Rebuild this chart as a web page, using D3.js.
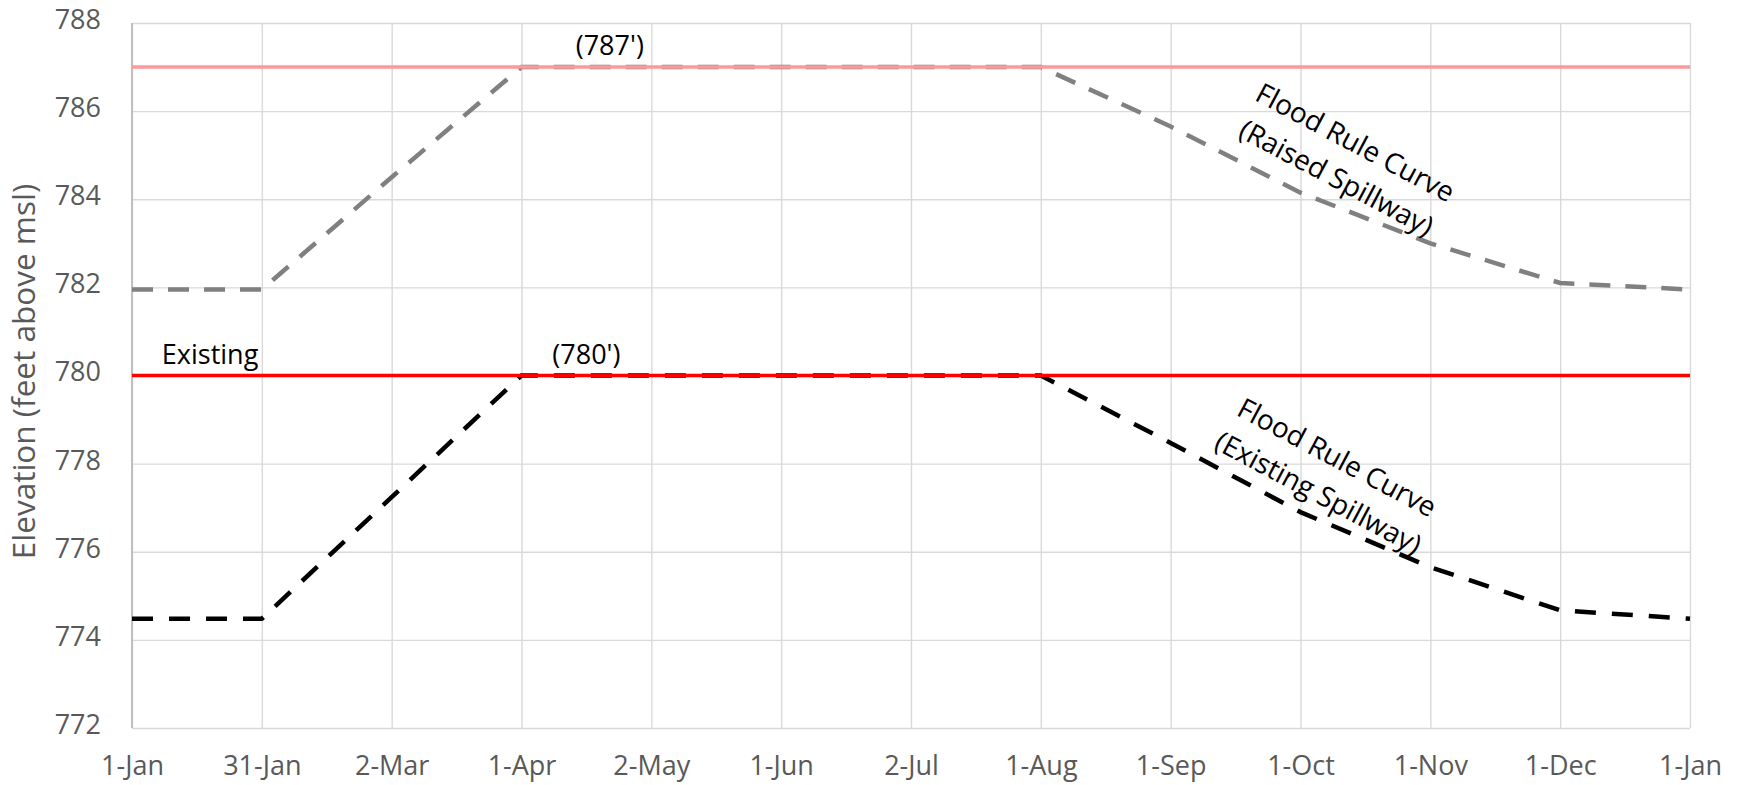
<!DOCTYPE html>
<html>
<head>
<meta charset="utf-8">
<script src="https://cdn.jsdelivr.net/npm/d3@7"></script>
<style>
  html, body { margin: 0; padding: 0; background: #ffffff; }
  svg { display: block; }
</style>
</head>
<body>
<div id="chart"></div>
<script>
// Category dates along the x axis (first and last are both 1-Jan)
const categories = ["1-Jan", "31-Jan", "2-Mar", "1-Apr", "2-May", "1-Jun", "2-Jul",
                    "1-Aug", "1-Sep", "1-Oct", "1-Nov", "1-Dec", "1-Jan"];

// Elevation tick labels (feet above msl)
const yTicks = [772, 774, 776, 778, 780, 782, 784, 786, 788];

// Flood rule curve with the existing spillway, one value per category
const existingCurve = [774.48, 774.48, 777.24, 780, 780, 780, 780, 780,
                       778.47, 776.9, 775.65, 774.67, 774.48];

// Flood rule curve with the raised spillway, one value per category
const raisedCurve = [781.95, 781.95, 784.5, 787, 787, 787, 787, 787,
                     785.65, 784.15, 783.0, 782.1, 781.95];

// Spillway crest elevations
const existingCrest = 780;
const raisedCrest = 787;

const W = 1741, H = 785;
const margin = { top: 23, right: 51, bottom: 57, left: 132 };
const iw = W - margin.left - margin.right;
const ih = H - margin.top - margin.bottom;

const svg = d3.select("#chart").append("svg")
  .attr("width", W).attr("height", H);

const g = svg.append("g").attr("transform", `translate(${margin.left},${margin.top})`);

const x = d3.scaleLinear().domain([0, categories.length - 1]).range([0, iw]);
const y = d3.scaleLinear().domain([d3.min(yTicks), d3.max(yTicks)]).range([ih, 0]);
const idx = d3.range(categories.length);

const tickFont = "'Open Sans', 'Noto Sans', sans-serif";

// Horizontal gridlines
g.append("g")
  .call(d3.axisLeft(y).tickValues(yTicks).tickSize(-iw).tickFormat(""))
  .call(a => a.select(".domain").remove())
  .call(a => a.selectAll("line").attr("stroke", "#d9d9d9").attr("stroke-width", 1.4));

// Vertical gridlines
g.append("g")
  .attr("transform", `translate(0,${ih})`)
  .call(d3.axisBottom(x).tickValues(idx).tickSize(-ih).tickFormat(""))
  .call(a => a.select(".domain").remove())
  .call(a => a.selectAll("line").attr("stroke", "#d9d9d9").attr("stroke-width", 1.4));

// Left axis line
g.append("line")
  .attr("x1", 0).attr("x2", 0).attr("y1", 0).attr("y2", ih)
  .attr("stroke", "#bfbfbf").attr("stroke-width", 2);

// Y tick labels
g.append("g")
  .call(d3.axisLeft(y).tickValues(yTicks).tickSize(0).tickPadding(31).tickFormat(d3.format("d")))
  .call(a => a.select(".domain").remove())
  .call(a => a.selectAll("text")
    .attr("dy", "0.2em")
    .attr("fill", "#595959")
    .style("font-family", tickFont)
    .style("font-size", "27px"));

// X tick labels
g.append("g")
  .attr("transform", `translate(0,${ih})`)
  .call(d3.axisBottom(x).tickValues(idx).tickSize(0).tickPadding(28).tickFormat(i => categories[i]))
  .call(a => a.select(".domain").remove())
  .call(a => a.selectAll("text")
    .attr("fill", "#595959")
    .style("font-family", tickFont)
    .style("font-size", "27px"));

// Y axis title
svg.append("text")
  .attr("transform", `translate(35,${margin.top + y(780) - 4}) rotate(-90)`)
  .attr("text-anchor", "middle")
  .attr("fill", "#595959")
  .style("font-family", tickFont)
  .style("font-size", "31.5px")
  .text("Elevation (feet above msl)");

const line = d3.line().x((d, i) => x(i)).y(d => y(d));

// Rule curves (dashed)
g.append("path")
  .datum(raisedCurve)
  .attr("d", line)
  .attr("fill", "none")
  .attr("stroke", "#808080")
  .attr("stroke-width", 4.5)
  .attr("stroke-dasharray", "21,15");

g.append("path")
  .datum(existingCurve)
  .attr("d", line)
  .attr("fill", "none")
  .attr("stroke", "#000000")
  .attr("stroke-width", 4.5)
  .attr("stroke-dasharray", "21,16");

// Spillway crest lines
g.append("line")
  .attr("x1", 0).attr("x2", iw)
  .attr("y1", y(raisedCrest)).attr("y2", y(raisedCrest))
  .attr("stroke", "#ff9999").attr("stroke-width", 3.4);

g.append("line")
  .attr("x1", 0).attr("x2", iw)
  .attr("y1", y(existingCrest)).attr("y2", y(existingCrest))
  .attr("stroke", "#ff0000").attr("stroke-width", 3.4);

// Annotations
const noteFont = "'Open Sans', 'Noto Sans', sans-serif";

g.append("text")
  .attr("x", x(0.23)).attr("y", y(existingCrest) - 12)
  .attr("fill", "#000").style("font-family", noteFont).style("font-size", "27px")
  .text("Existing");

g.append("text")
  .attr("x", x(3.68)).attr("y", y(raisedCrest) - 12)
  .attr("text-anchor", "middle")
  .attr("fill", "#000").style("font-family", noteFont).style("font-size", "27px")
  .text(`(${raisedCrest}')`);

g.append("text")
  .attr("x", x(3.5)).attr("y", y(existingCrest) - 12)
  .attr("text-anchor", "middle")
  .attr("fill", "#000").style("font-family", noteFont).style("font-size", "27px")
  .text(`(${existingCrest}')`);

function curveLabel(cx, cy, lines) {
  const t = g.append("text")
    .attr("transform", `translate(${cx},${cy}) rotate(28)`)
    .attr("text-anchor", "middle")
    .attr("fill", "#000")
    .style("font-family", noteFont)
    .style("font-size", "28px");
  t.append("tspan").attr("x", 0).attr("y", -10).text(lines[0]);
  t.append("tspan").attr("x", 0).attr("y", 30).text(lines[1]);
}

curveLabel(x(9.35), y(784.89), ["Flood Rule Curve", "(Raised Spillway)"]);
curveLabel(x(9.21), y(777.74), ["Flood Rule Curve", "(Existing Spillway)"]);
</script>
</body>
</html>
